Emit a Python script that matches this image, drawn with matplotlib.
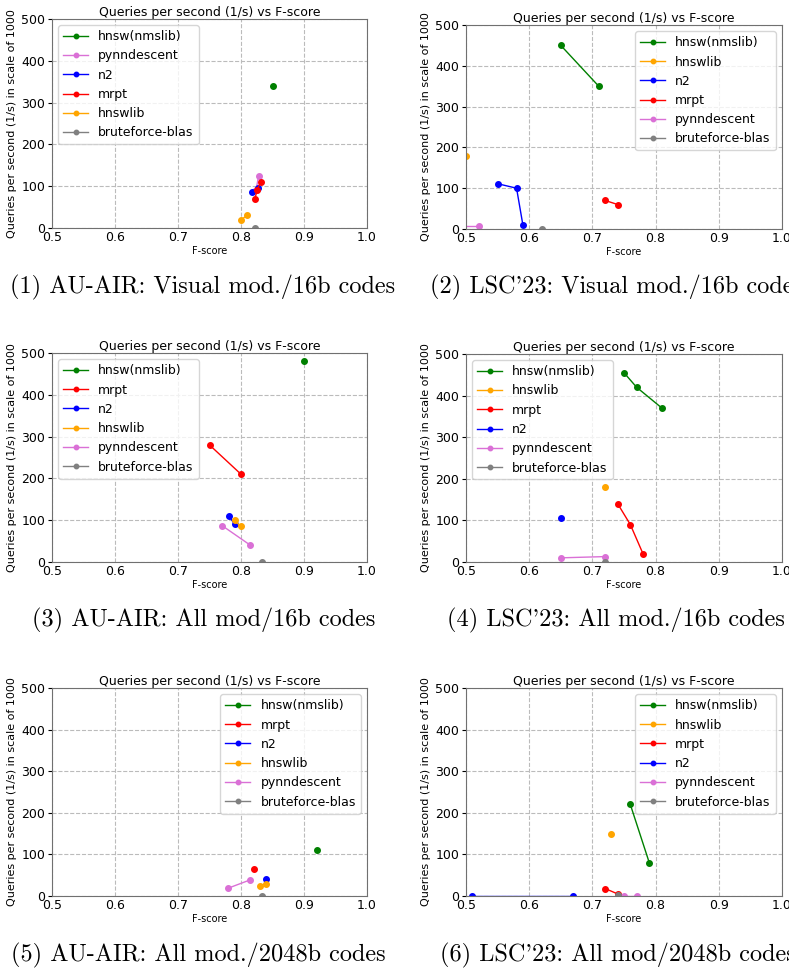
import matplotlib
matplotlib.use("Agg")
import matplotlib.pyplot as plt

# ---------------- data ----------------
title = "Queries per second (1/s) vs F-score"
xlabel = "F-score"
ylabel = "Queries per second (1/s) in scale of 1000"
xticks = [0.5, 0.6, 0.7, 0.8, 0.9, 1.0]
yticks = [0, 100, 200, 300, 400, 500]

colors = {
    "hnsw(nmslib)": "green",
    "hnswlib": "orange",
    "n2": "blue",
    "mrpt": "red",
    "pynndescent": "orchid",
    "bruteforce-blas": "gray",
}

# Panel 1: AU-AIR visual / 16b
p1_order = ["hnsw(nmslib)", "pynndescent", "n2", "mrpt", "hnswlib", "bruteforce-blas"]
p1_hnsw_x, p1_hnsw_y = [0.85], [340]
p1_pynn_x, p1_pynn_y = [0.824, 0.828], [92, 125]
p1_n2_x, p1_n2_y = [0.818, 0.827], [86, 96]
p1_mrpt_x, p1_mrpt_y = [0.822, 0.826, 0.831], [70, 92, 110]
p1_hnswlib_x, p1_hnswlib_y = [0.8005, 0.8095], [20, 30]
p1_bf_x, p1_bf_y = [0.823], [0]

# Panel 2: LSC'23 visual / 16b
p2_order = ["hnsw(nmslib)", "hnswlib", "n2", "mrpt", "pynndescent", "bruteforce-blas"]
p2_hnsw_x, p2_hnsw_y = [0.65, 0.71], [450, 350]
p2_hnswlib_x, p2_hnswlib_y = [0.5], [180]
p2_n2_x, p2_n2_y = [0.55, 0.58, 0.59], [111, 100, 10]
p2_mrpt_x, p2_mrpt_y = [0.72, 0.74], [70, 60]
p2_pynn_x, p2_pynn_y = [0.47, 0.52], [8, 8]
p2_bf_x, p2_bf_y = [0.62], [0]

# Panel 3: AU-AIR all / 16b
p3_order = ["hnsw(nmslib)", "mrpt", "n2", "hnswlib", "pynndescent", "bruteforce-blas"]
p3_hnsw_x, p3_hnsw_y = [0.90], [480]
p3_mrpt_x, p3_mrpt_y = [0.75, 0.80], [280, 210]
p3_n2_x, p3_n2_y = [0.781, 0.79], [110, 90]
p3_hnswlib_x, p3_hnswlib_y = [0.79, 0.7995], [100, 85]
p3_pynn_x, p3_pynn_y = [0.77, 0.815], [87, 40]
p3_bf_x, p3_bf_y = [0.833], [0]

# Panel 4: LSC'23 all / 16b
p4_order = ["hnsw(nmslib)", "hnswlib", "mrpt", "n2", "pynndescent", "bruteforce-blas"]
p4_hnsw_x, p4_hnsw_y = [0.75, 0.77, 0.81], [455, 420, 370]
p4_hnswlib_x, p4_hnswlib_y = [0.72], [180]
p4_mrpt_x, p4_mrpt_y = [0.74, 0.76, 0.78], [140, 90, 20]
p4_n2_x, p4_n2_y = [0.65], [105]
p4_pynn_x, p4_pynn_y = [0.65, 0.72], [10, 13]
p4_bf_x, p4_bf_y = [0.72], [0]

# Panel 5: AU-AIR all / 2048b
p5_order = ["hnsw(nmslib)", "mrpt", "n2", "hnswlib", "pynndescent", "bruteforce-blas"]
p5_hnsw_x, p5_hnsw_y = [0.92], [110]
p5_mrpt_x, p5_mrpt_y = [0.82], [65]
p5_n2_x, p5_n2_y = [0.84], [42]
p5_hnswlib_x, p5_hnswlib_y = [0.83, 0.84], [25, 30]
p5_pynn_x, p5_pynn_y = [0.78, 0.815], [19, 39]
p5_bf_x, p5_bf_y = [0.833], [0]

# Panel 6: LSC'23 all / 2048b
p6_order = ["hnsw(nmslib)", "hnswlib", "mrpt", "n2", "pynndescent", "bruteforce-blas"]
p6_hnsw_x, p6_hnsw_y = [0.76, 0.79], [220, 80]
p6_hnswlib_x, p6_hnswlib_y = [0.73], [148]
p6_mrpt_x, p6_mrpt_y = [0.72, 0.74], [18, 5]
p6_n2_x, p6_n2_y = [0.51, 0.67], [1, 1]
p6_pynn_x, p6_pynn_y = [0.75, 0.77], [1, 1]
p6_bf_x, p6_bf_y = [0.74], [2]

captions = [
    "(1) AU-AIR: Visual mod./16b codes",
    "(2) LSC'23: Visual mod./16b codes",
    "(3) AU-AIR: All mod/16b codes",
    "(4) LSC'23: All mod./16b codes",
    "(5) AU-AIR: All mod./2048b codes",
    "(6) LSC'23: All mod/2048b codes",
]

panels = [
    (p1_order, {"hnsw(nmslib)": (p1_hnsw_x, p1_hnsw_y), "pynndescent": (p1_pynn_x, p1_pynn_y),
                "n2": (p1_n2_x, p1_n2_y), "mrpt": (p1_mrpt_x, p1_mrpt_y),
                "hnswlib": (p1_hnswlib_x, p1_hnswlib_y), "bruteforce-blas": (p1_bf_x, p1_bf_y)}),
    (p2_order, {"hnsw(nmslib)": (p2_hnsw_x, p2_hnsw_y), "hnswlib": (p2_hnswlib_x, p2_hnswlib_y),
                "n2": (p2_n2_x, p2_n2_y), "mrpt": (p2_mrpt_x, p2_mrpt_y),
                "pynndescent": (p2_pynn_x, p2_pynn_y), "bruteforce-blas": (p2_bf_x, p2_bf_y)}),
    (p3_order, {"hnsw(nmslib)": (p3_hnsw_x, p3_hnsw_y), "mrpt": (p3_mrpt_x, p3_mrpt_y),
                "n2": (p3_n2_x, p3_n2_y), "hnswlib": (p3_hnswlib_x, p3_hnswlib_y),
                "pynndescent": (p3_pynn_x, p3_pynn_y), "bruteforce-blas": (p3_bf_x, p3_bf_y)}),
    (p4_order, {"hnsw(nmslib)": (p4_hnsw_x, p4_hnsw_y), "hnswlib": (p4_hnswlib_x, p4_hnswlib_y),
                "mrpt": (p4_mrpt_x, p4_mrpt_y), "n2": (p4_n2_x, p4_n2_y),
                "pynndescent": (p4_pynn_x, p4_pynn_y), "bruteforce-blas": (p4_bf_x, p4_bf_y)}),
    (p5_order, {"hnsw(nmslib)": (p5_hnsw_x, p5_hnsw_y), "mrpt": (p5_mrpt_x, p5_mrpt_y),
                "n2": (p5_n2_x, p5_n2_y), "hnswlib": (p5_hnswlib_x, p5_hnswlib_y),
                "pynndescent": (p5_pynn_x, p5_pynn_y), "bruteforce-blas": (p5_bf_x, p5_bf_y)}),
    (p6_order, {"hnsw(nmslib)": (p6_hnsw_x, p6_hnsw_y), "hnswlib": (p6_hnswlib_x, p6_hnswlib_y),
                "mrpt": (p6_mrpt_x, p6_mrpt_y), "n2": (p6_n2_x, p6_n2_y),
                "pynndescent": (p6_pynn_x, p6_pynn_y), "bruteforce-blas": (p6_bf_x, p6_bf_y)}),
]

# ---------------- layout (pixels) ----------------
W, H = 789, 971
axes_px = [  # left, top, right, bottom
    (52, 19, 367, 228),
    (466, 25, 782, 229),
    (52, 353, 367, 562),
    (466, 354, 782, 562),
    (52, 688, 367, 896),
    (466, 688, 782, 896),
]
legend_locs = ["upper left", "upper right", "upper left", "upper left", "upper right", "upper right"]
caption_pos = [(10, 287), (430, 287), (32, 620), (447, 620), (11, 955), (440, 955)]

fig = plt.figure(figsize=(W / 100, H / 100), dpi=100)

for i, ((order, series), (l, t, r, b)) in enumerate(zip(panels, axes_px)):
    ax = fig.add_axes([l / W, 1 - b / H, (r - l) / W, (b - t) / H])
    for name in order:
        xs, ys = series[name]
        ax.plot(xs, ys, marker="o", markersize=4, linewidth=1, color=colors[name], label=name)
    ax.set_xlim(0.5, 1.0)
    ax.set_ylim(0, 500)
    ax.set_xticks(xticks)
    ax.set_yticks(yticks)
    ax.tick_params(axis="x", labelsize=9, length=0, pad=2.5)
    ax.tick_params(axis="y", labelsize=9, length=3, pad=2)
    ax.grid(True, linestyle="--", color="#bbbbbb", linewidth=0.8)
    ax.set_axisbelow(True)
    for sp in ax.spines.values():
        sp.set_color("#707070")
    ax.set_title(title, fontsize=9, pad=2)
    ax.set_xlabel(xlabel, fontsize=7, labelpad=1)
    ax.set_ylabel(ylabel, fontsize=8, labelpad=3)
    ax.legend(loc=legend_locs[i], fontsize=9, markerscale=0.8)

for cap, (x, y) in zip(captions, caption_pos):
    fig.text(x / W, 1 - y / H, cap, family="cmr10", fontsize=17.5, ha="left", va="center")

fig.savefig("out.png", dpi=100)
